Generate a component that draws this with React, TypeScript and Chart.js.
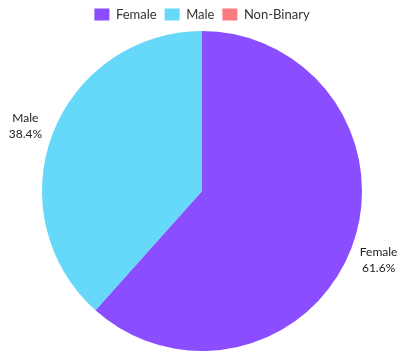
import React, { useEffect, useRef } from "react";
import { Chart, registerables } from "chart.js";

Chart.register(...registerables);

const categories = ["Female", "Male", "Non-Binary"];
const values = [61.6, 38.4, 0];
const colors = ["#8a4dff", "#66d8fa", "#fa7a7f"];

const outsideLabels = {
  id: "outsideLabels",
  afterDatasetsDraw(chart: any) {
    const ctx = chart.ctx;
    const meta = chart.getDatasetMeta(0);
    const total = values.reduce((a, b) => a + b, 0);
    ctx.save();
    ctx.font = "12px Lato, 'Open Sans', sans-serif";
    ctx.fillStyle = "#222";
    ctx.textAlign = "center";
    ctx.textBaseline = "middle";
    meta.data.forEach((arc: any, i: number) => {
      if (!values[i]) return;
      const { x, y, startAngle, endAngle, outerRadius } = arc.getProps(
        ["x", "y", "startAngle", "endAngle", "outerRadius"],
        true
      );
      const mid = (startAngle + endAngle) / 2;
      const r = outerRadius + 29;
      const lx = x + Math.cos(mid) * r;
      const ly = y + Math.sin(mid) * r;
      const pct = ((values[i] / total) * 100).toFixed(1) + "%";
      ctx.fillText(categories[i], lx, ly - 6);
      ctx.fillText(pct, lx, ly + 10);
    });
    ctx.restore();
  },
};

export default function App() {
  const ref = useRef<HTMLCanvasElement>(null);
  useEffect(() => {
    if (!ref.current) return;
    const chart = new Chart(ref.current, {
      type: "pie",
      data: {
        labels: categories,
        datasets: [
          {
            data: values,
            backgroundColor: colors,
            borderWidth: 0,
          },
        ],
      },
      options: {
        responsive: false,
        animation: false,
        layout: { padding: { left: 4, right: 0, top: 0, bottom: 1 } },
        plugins: {
          legend: {
            position: "top",
            labels: {
              boxWidth: 15,
              boxHeight: 12,
              padding: 8,
              color: "#333",
              font: { size: 13, family: "Lato, 'Open Sans', sans-serif" },
            },
          },
          tooltip: { enabled: false },
        },
      },
      plugins: [outsideLabels],
    });
    return () => chart.destroy();
  }, []);
  return (
    <div style={{ position: "fixed", left: 0, top: 0, width: 400, height: 352, background: "#fff" }}>
      <canvas ref={ref} width={400} height={352} style={{ width: 400, height: 352 }} />
    </div>
  );
}
